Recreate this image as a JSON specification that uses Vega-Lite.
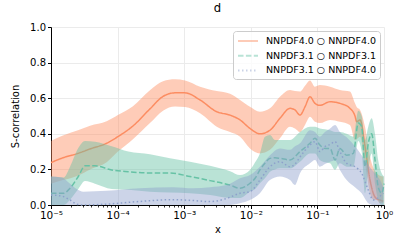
{
  "$schema": "https://vega.github.io/schema/vega-lite/v6.json",
  "autosize": "none",
  "width": 333,
  "height": 178,
  "padding": {"left": 51, "top": 27, "right": 23, "bottom": 45},
  "title": {"text": "d", "fontSize": 11.6, "fontWeight": "normal", "font": "DejaVu Sans", "color": "black", "offset": 7},
  "data": {"values": [
    {"s": "a", "x": 1e-5, "m": 0.238, "lo": 0.12, "hi": 0.36},
    {"s": "a", "x": 1.51e-5, "m": 0.265, "lo": 0.14, "hi": 0.39},
    {"s": "a", "x": 2.54e-5, "m": 0.29, "lo": 0.165, "hi": 0.42},
    {"s": "a", "x": 3.86e-5, "m": 0.315, "lo": 0.2, "hi": 0.445},
    {"s": "a", "x": 6.85e-5, "m": 0.347, "lo": 0.24, "hi": 0.47},
    {"s": "a", "x": 1.01e-4, "m": 0.384, "lo": 0.3, "hi": 0.505},
    {"s": "a", "x": 1.7e-4, "m": 0.444, "lo": 0.37, "hi": 0.555},
    {"s": "a", "x": 3.06e-4, "m": 0.54, "lo": 0.46, "hi": 0.645},
    {"s": "a", "x": 4.81e-4, "m": 0.61, "lo": 0.53, "hi": 0.695},
    {"s": "a", "x": 7.28e-4, "m": 0.63, "lo": 0.553, "hi": 0.706},
    {"s": "a", "x": 1.03e-3, "m": 0.63, "lo": 0.55, "hi": 0.7},
    {"s": "a", "x": 1.73e-3, "m": 0.59, "lo": 0.515, "hi": 0.665},
    {"s": "a", "x": 3.08e-3, "m": 0.524, "lo": 0.44, "hi": 0.64},
    {"s": "a", "x": 4.88e-3, "m": 0.505, "lo": 0.41, "hi": 0.625},
    {"s": "a", "x": 6.89e-3, "m": 0.478, "lo": 0.384, "hi": 0.59},
    {"s": "a", "x": 9.72e-3, "m": 0.43, "lo": 0.318, "hi": 0.552},
    {"s": "a", "x": 1.37e-2, "m": 0.4, "lo": 0.29, "hi": 0.524},
    {"s": "a", "x": 1.94e-2, "m": 0.42, "lo": 0.31, "hi": 0.543},
    {"s": "a", "x": 2.74e-2, "m": 0.487, "lo": 0.375, "hi": 0.608},
    {"s": "a", "x": 3.88e-2, "m": 0.543, "lo": 0.44, "hi": 0.646},
    {"s": "a", "x": 4.61e-2, "m": 0.534, "lo": 0.43, "hi": 0.64},
    {"s": "a", "x": 5.48e-2, "m": 0.505, "lo": 0.41, "hi": 0.637},
    {"s": "a", "x": 6.52e-2, "m": 0.552, "lo": 0.45, "hi": 0.67},
    {"s": "a", "x": 7.74e-2, "m": 0.608, "lo": 0.496, "hi": 0.7},
    {"s": "a", "x": 9.2e-2, "m": 0.571, "lo": 0.468, "hi": 0.665},
    {"s": "a", "x": 0.109, "m": 0.56, "lo": 0.46, "hi": 0.674},
    {"s": "a", "x": 0.155, "m": 0.58, "lo": 0.478, "hi": 0.665},
    {"s": "a", "x": 0.218, "m": 0.571, "lo": 0.468, "hi": 0.646},
    {"s": "a", "x": 0.308, "m": 0.543, "lo": 0.45, "hi": 0.637},
    {"s": "a", "x": 0.367, "m": 0.5, "lo": 0.365, "hi": 0.571},
    {"s": "a", "x": 0.389, "m": 0.468, "lo": 0.37, "hi": 0.55},
    {"s": "a", "x": 0.437, "m": 0.478, "lo": 0.384, "hi": 0.534},
    {"s": "a", "x": 0.519, "m": 0.328, "lo": 0.234, "hi": 0.44},
    {"s": "a", "x": 0.617, "m": 0.14, "lo": 0.066, "hi": 0.27},
    {"s": "a", "x": 0.69, "m": 0.066, "lo": 0.03, "hi": 0.21},
    {"s": "a", "x": 0.776, "m": 0.035, "lo": 0.028, "hi": 0.178},
    {"s": "a", "x": 0.871, "m": 0.028, "lo": 0.01, "hi": 0.165},
    {"s": "a", "x": 0.975, "m": 0.02, "lo": 0.01, "hi": 0.16},

    {"s": "b", "x": 1e-5, "m": 0.066, "lo": 0.0, "hi": 0.16},
    {"s": "b", "x": 1.55e-5, "m": 0.066, "lo": 0.0, "hi": 0.155},
    {"s": "b", "x": 1.93e-5, "m": 0.094, "lo": 0.03, "hi": 0.215},
    {"s": "b", "x": 2.57e-5, "m": 0.16, "lo": 0.09, "hi": 0.32},
    {"s": "b", "x": 3.24e-5, "m": 0.22, "lo": 0.135, "hi": 0.36},
    {"s": "b", "x": 4.58e-5, "m": 0.22, "lo": 0.12, "hi": 0.355},
    {"s": "b", "x": 8.15e-5, "m": 0.197, "lo": 0.09, "hi": 0.33},
    {"s": "b", "x": 1.45e-4, "m": 0.187, "lo": 0.085, "hi": 0.3},
    {"s": "b", "x": 3.06e-4, "m": 0.18, "lo": 0.075, "hi": 0.285},
    {"s": "b", "x": 6.12e-4, "m": 0.18, "lo": 0.07, "hi": 0.262},
    {"s": "b", "x": 1.22e-3, "m": 0.16, "lo": 0.066, "hi": 0.243},
    {"s": "b", "x": 2.44e-3, "m": 0.137, "lo": 0.056, "hi": 0.22},
    {"s": "b", "x": 4.88e-3, "m": 0.112, "lo": 0.04, "hi": 0.19},
    {"s": "b", "x": 6.89e-3, "m": 0.094, "lo": 0.04, "hi": 0.168},
    {"s": "b", "x": 9.72e-3, "m": 0.122, "lo": 0.075, "hi": 0.197},
    {"s": "b", "x": 1.16e-2, "m": 0.15, "lo": 0.09, "hi": 0.24},
    {"s": "b", "x": 1.37e-2, "m": 0.197, "lo": 0.122, "hi": 0.29},
    {"s": "b", "x": 1.63e-2, "m": 0.235, "lo": 0.15, "hi": 0.384},
    {"s": "b", "x": 1.94e-2, "m": 0.262, "lo": 0.187, "hi": 0.393},
    {"s": "b", "x": 2.31e-2, "m": 0.265, "lo": 0.2, "hi": 0.365},
    {"s": "b", "x": 2.74e-2, "m": 0.262, "lo": 0.206, "hi": 0.365},
    {"s": "b", "x": 3.88e-2, "m": 0.253, "lo": 0.206, "hi": 0.365},
    {"s": "b", "x": 5.48e-2, "m": 0.3, "lo": 0.243, "hi": 0.41},
    {"s": "b", "x": 7.74e-2, "m": 0.347, "lo": 0.29, "hi": 0.44},
    {"s": "b", "x": 9.2e-2, "m": 0.375, "lo": 0.29, "hi": 0.44},
    {"s": "b", "x": 0.109, "m": 0.337, "lo": 0.253, "hi": 0.43},
    {"s": "b", "x": 0.13, "m": 0.318, "lo": 0.24, "hi": 0.425},
    {"s": "b", "x": 0.155, "m": 0.318, "lo": 0.234, "hi": 0.42},
    {"s": "b", "x": 0.184, "m": 0.253, "lo": 0.197, "hi": 0.41},
    {"s": "b", "x": 0.218, "m": 0.318, "lo": 0.234, "hi": 0.41},
    {"s": "b", "x": 0.275, "m": 0.28, "lo": 0.215, "hi": 0.4},
    {"s": "b", "x": 0.346, "m": 0.29, "lo": 0.215, "hi": 0.384},
    {"s": "b", "x": 0.411, "m": 0.46, "lo": 0.36, "hi": 0.53},
    {"s": "b", "x": 0.462, "m": 0.44, "lo": 0.3, "hi": 0.5},
    {"s": "b", "x": 0.519, "m": 0.215, "lo": 0.066, "hi": 0.365},
    {"s": "b", "x": 0.581, "m": 0.347, "lo": 0.2, "hi": 0.44},
    {"s": "b", "x": 0.653, "m": 0.4, "lo": 0.29, "hi": 0.487},
    {"s": "b", "x": 0.733, "m": 0.253, "lo": 0.12, "hi": 0.4},
    {"s": "b", "x": 0.82, "m": 0.1, "lo": 0.028, "hi": 0.25},
    {"s": "b", "x": 0.922, "m": 0.066, "lo": 0.0, "hi": 0.178},
    {"s": "b", "x": 1.0, "m": 0.12, "lo": 0.0, "hi": 0.16},

    {"s": "c", "x": 1e-5, "m": 0.056, "lo": 0.0, "hi": 0.16},
    {"s": "c", "x": 1.45e-5, "m": 0.05, "lo": 0.0, "hi": 0.155},
    {"s": "c", "x": 1.93e-5, "m": 0.028, "lo": 0.0, "hi": 0.12},
    {"s": "c", "x": 2.43e-5, "m": 0.005, "lo": 0.0, "hi": 0.09},
    {"s": "c", "x": 3.05e-5, "m": 0.0, "lo": 0.0, "hi": 0.075},
    {"s": "c", "x": 6.85e-5, "m": 0.005, "lo": 0.0, "hi": 0.08},
    {"s": "c", "x": 2.17e-4, "m": 0.02, "lo": 0.0, "hi": 0.094},
    {"s": "c", "x": 6.85e-4, "m": 0.03, "lo": 0.0, "hi": 0.1},
    {"s": "c", "x": 1.36e-3, "m": 0.025, "lo": 0.0, "hi": 0.094},
    {"s": "c", "x": 2.44e-3, "m": 0.019, "lo": 0.0, "hi": 0.1},
    {"s": "c", "x": 4.35e-3, "m": 0.037, "lo": 0.0, "hi": 0.112},
    {"s": "c", "x": 6.89e-3, "m": 0.066, "lo": 0.01, "hi": 0.15},
    {"s": "c", "x": 9.72e-3, "m": 0.075, "lo": 0.028, "hi": 0.168},
    {"s": "c", "x": 1.37e-2, "m": 0.14, "lo": 0.066, "hi": 0.215},
    {"s": "c", "x": 1.94e-2, "m": 0.215, "lo": 0.14, "hi": 0.28},
    {"s": "c", "x": 2.74e-2, "m": 0.243, "lo": 0.16, "hi": 0.318},
    {"s": "c", "x": 3.88e-2, "m": 0.215, "lo": 0.14, "hi": 0.31},
    {"s": "c", "x": 4.61e-2, "m": 0.23, "lo": 0.112, "hi": 0.33},
    {"s": "c", "x": 5.48e-2, "m": 0.27, "lo": 0.178, "hi": 0.347},
    {"s": "c", "x": 7.74e-2, "m": 0.337, "lo": 0.234, "hi": 0.42},
    {"s": "c", "x": 9.2e-2, "m": 0.356, "lo": 0.253, "hi": 0.41},
    {"s": "c", "x": 0.109, "m": 0.3, "lo": 0.215, "hi": 0.384},
    {"s": "c", "x": 0.13, "m": 0.328, "lo": 0.23, "hi": 0.41},
    {"s": "c", "x": 0.155, "m": 0.34, "lo": 0.243, "hi": 0.43},
    {"s": "c", "x": 0.184, "m": 0.356, "lo": 0.25, "hi": 0.45},
    {"s": "c", "x": 0.218, "m": 0.3, "lo": 0.197, "hi": 0.41},
    {"s": "c", "x": 0.275, "m": 0.234, "lo": 0.14, "hi": 0.38},
    {"s": "c", "x": 0.367, "m": 0.215, "lo": 0.1, "hi": 0.33},
    {"s": "c", "x": 0.462, "m": 0.178, "lo": 0.066, "hi": 0.28},
    {"s": "c", "x": 0.581, "m": 0.084, "lo": 0.01, "hi": 0.225},
    {"s": "c", "x": 0.69, "m": 0.028, "lo": 0.0, "hi": 0.19},
    {"s": "c", "x": 0.871, "m": 0.05, "lo": 0.0, "hi": 0.14},
    {"s": "c", "x": 0.98, "m": 0.066, "lo": 0.0, "hi": 0.1}
  ]},
  "layer": [
    {
      "layer": [
        {"transform": [{"filter": {"field": "s", "equal": "a"}}], "mark": {"type": "area", "opacity": 0.45, "interpolate": "monotone"},
         "encoding": {"y": {"field": "lo", "type": "quantitative"}, "y2": {"field": "hi"}}},
        {"transform": [{"filter": {"field": "s", "equal": "a"}}], "mark": {"type": "line", "strokeWidth": 1.5, "interpolate": "monotone"},
         "encoding": {"y": {"field": "m", "type": "quantitative"}}},
        {"transform": [{"filter": {"field": "s", "equal": "b"}}], "mark": {"type": "area", "opacity": 0.45, "interpolate": "monotone"},
         "encoding": {"y": {"field": "lo", "type": "quantitative"}, "y2": {"field": "hi"}}},
        {"transform": [{"filter": {"field": "s", "equal": "b"}}], "mark": {"type": "line", "strokeWidth": 1.5, "interpolate": "monotone"},
         "encoding": {"y": {"field": "m", "type": "quantitative"}}},
        {"transform": [{"filter": {"field": "s", "equal": "c"}}], "mark": {"type": "area", "opacity": 0.45, "interpolate": "monotone"},
         "encoding": {"y": {"field": "lo", "type": "quantitative"}, "y2": {"field": "hi"}}},
        {"transform": [{"filter": {"field": "s", "equal": "c"}}], "mark": {"type": "line", "strokeWidth": 1.5, "interpolate": "monotone"},
         "encoding": {"y": {"field": "m", "type": "quantitative"}}}
      ],
      "encoding": {
        "x": {"field": "x", "type": "quantitative", "title": "x",
              "scale": {"type": "log", "domain": [1e-5, 1], "nice": false},
              "axis": {"values": [1e-5, 1e-4, 1e-3, 1e-2, 1e-1, 1], "orient": "bottom",
                       "labelExpr": "datum.value < 5e-5 ? '10⁻⁵' : datum.value < 5e-4 ? '10⁻⁴' : datum.value < 5e-3 ? '10⁻³' : datum.value < 5e-2 ? '10⁻²' : datum.value < 0.5 ? '10⁻¹' : '10⁰'",
                       "grid": true, "tickSize": 3.5, "labelPadding": 2, "titlePadding": 3, "labelFlush": false, "labelFontSize": 10.5}},
        "y": {"title": "S-correlation", "scale": {"domain": [0, 1], "nice": false},
              "axis": {"values": [0, 0.2, 0.4, 0.6, 0.8, 1.0], "format": ".1f", "grid": true, "tickSize": 3.5, "labelPadding": 2, "titlePadding": 9}},
        "color": {"field": "s", "type": "nominal",
                  "scale": {"domain": ["a", "b", "c"], "range": ["#fc8d62", "#66c2a5", "#8da0cb"]},
                  "legend": {"title": null, "orient": "top-right", "offset": 4,
                             "labelExpr": "datum.value == 'a' ? 'NNPDF4.0 ○ NNPDF4.0' : datum.value == 'b' ? 'NNPDF3.1 ○ NNPDF3.1' : 'NNPDF3.1 ○ NNPDF4.0'",
                             "symbolType": "M-2,0H2", "symbolSize": 100, "symbolStrokeWidth": 2, "symbolOffset": 5, "labelOffset": 12,
                             "labelFontSize": 9.5, "rowPadding": 3.7, "padding": 4, "strokeColor": "#cccccc", "fillColor": "rgba(255,255,255,0.8)", "cornerRadius": 3, "labelFont": "DejaVu Sans", "labelColor": "black"}},
        "strokeDash": {"field": "s", "type": "nominal",
                       "scale": {"domain": ["a", "b", "c"], "range": [[1, 0], [5.5, 2.4], [1.5, 2.5]]}}
      }
    },
    {
      "mark": {"type": "rule", "opacity": 0},
      "encoding": {
        "x": {"field": "x", "type": "quantitative", "title": null,
              "scale": {"type": "log", "domain": [1e-5, 1], "nice": false},
              "axis": {"orient": "bottom", "values": [2e-5, 3e-5, 4e-5, 5e-5, 6e-5, 7e-5, 8e-5, 9e-5, 2e-4, 3e-4, 4e-4, 5e-4, 6e-4, 7e-4, 8e-4, 9e-4, 2e-3, 3e-3, 4e-3, 5e-3, 6e-3, 7e-3, 8e-3, 9e-3, 2e-2, 3e-2, 4e-2, 5e-2, 6e-2, 7e-2, 8e-2, 9e-2, 0.2, 0.3, 0.4, 0.5, 0.6, 0.7, 0.8, 0.9],
                       "labels": false, "grid": false, "domain": false, "tickSize": 2, "tickWidth": 0.8, "title": null}}
      }
    }
  ],
  "resolve": {"axis": {"x": "independent"}},
  "config": {
    "view": {"stroke": null},
    "axis": {"domainColor": "black", "tickColor": "black", "gridColor": "#ebebeb", "labelFont": "DejaVu Sans", "titleFont": "DejaVu Sans", "labelColor": "black", "titleColor": "black", "labelFontSize": 10, "titleFontSize": 10, "titleFontWeight": "normal"}
  }
}
